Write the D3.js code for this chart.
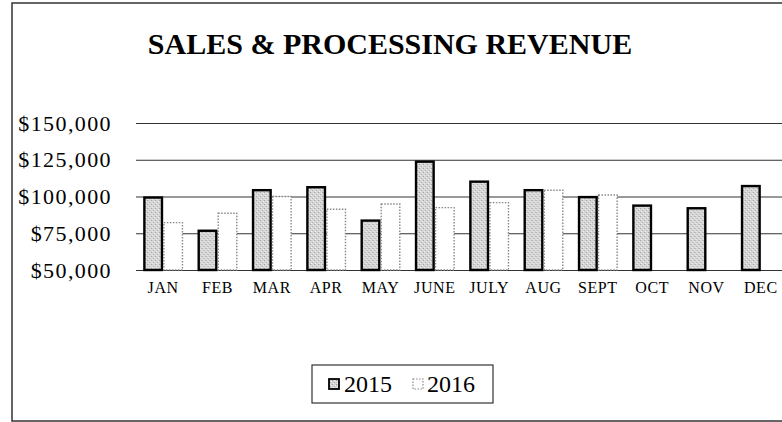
<!DOCTYPE html>
<html>
<head>
<meta charset="utf-8">
<script src="https://cdn.jsdelivr.net/npm/d3@7"></script>
<style>
  body { margin: 0; background: #fff; }
  text { font-family: "Liberation Serif", "DejaVu Serif", serif; }
</style>
</head>
<body>
<div id="rev_viz"></div>
<script>

// data
var months = ["JAN", "FEB", "MAR", "APR", "MAY", "JUNE", "JULY", "AUG", "SEPT", "OCT", "NOV", "DEC"]
var years = ["2015", "2016"]
var sales2015 = [99300, 76700, 104300, 106300, 83600, 123700, 110100, 104300, 99600, 93800, 92000, 107100]
var sales2016 = [82200, 88600, 100000, 91300, 94900, 92400, 95800, 104300, 101000, null, null, null]
var yTicks = [50000, 75000, 100000, 125000, 150000]

var width = 782, height = 422

var svg = d3.select("#rev_viz")
  .append("svg")
    .attr("width", width)
    .attr("height", height)

// stipple fill for the 2015 bars
var defs = svg.append("defs")
var pat = defs.append("pattern")
    .attr("id", "stipple")
    .attr("width", 4).attr("height", 4)
    .attr("patternUnits", "userSpaceOnUse")
pat.append("rect").attr("width", 4).attr("height", 4).attr("fill", "#d6d6d6")
var dots = [[0, 0, "#9c9c9c"], [2, 2, "#ababab"], [1, 3, "#f0f0f0"], [3, 1, "#eeeeee"]]
dots.forEach(function(d) {
  pat.append("rect").attr("x", d[0]).attr("y", d[1]).attr("width", 1).attr("height", 1).attr("fill", d[2])
})

// frame
svg.append("rect")
    .attr("x", 12).attr("y", 3)
    .attr("width", 790).attr("height", 418)
    .attr("fill", "none")
    .attr("stroke", "#333")
    .attr("stroke-width", 1.5)

// title
svg.append("text")
    .attr("x", 390)
    .attr("y", 54)
    .attr("text-anchor", "middle")
    .style("font-size", "30px")
    .style("font-weight", "bold")
    .text("SALES & PROCESSING REVENUE")

// scales
var x = d3.scaleBand()
    .domain(months)
    .range([136, 788])
    .paddingInner(0.264)
    .paddingOuter(0.132)

var xSub = d3.scaleBand()
    .domain(years)
    .range([0, x.bandwidth()])

var y = d3.scaleLinear()
    .domain([50000, 150000])
    .range([270, 123])

// Y axis with gridlines across the plot
var yAxis = svg.append("g")
    .attr("transform", "translate(136,0)")
    .call(d3.axisLeft(y).tickValues(yTicks).tickSize(-(width - 136)).tickFormat(d3.format("$,")))
yAxis.select(".domain").remove()
yAxis.selectAll(".tick line").attr("stroke", "#333").attr("stroke-width", 1)
yAxis.selectAll(".tick text")
    .attr("x", -24)
    .attr("fill", "#000")
    .style("font-size", "22px")
    .style("letter-spacing", "1.4px")
    .style("font-family", "'Liberation Serif', serif")

// X axis labels
var xAxis = svg.append("g")
    .attr("transform", "translate(0,270)")
    .call(d3.axisBottom(x).tickSize(0).tickPadding(12))
xAxis.select(".domain").remove()
xAxis.selectAll(".tick text")
    .attr("fill", "#000")
    .style("font-size", "16px")
    .style("letter-spacing", "0.6px")
    .style("font-family", "'Liberation Serif', serif")

// bars
var rows = months.map(function(m, i) {
  return {month: m, values: [{year: "2015", v: sales2015[i]}, {year: "2016", v: sales2016[i]}]}
})

svg.append("g")
  .selectAll("g")
  .data(rows)
  .enter().append("g")
    .attr("transform", function(d) { return "translate(" + x(d.month) + ",0)" })
  .selectAll("rect")
  .data(function(d) { return d.values.filter(function(e) { return e.v != null }) })
  .enter().append("rect")
    .attr("x", function(d) { return xSub(d.year) + (d.year == "2015" ? 1.2 : 0.7) })
    .attr("y", function(d) { return y(d.v) })
    .attr("width", function(d) { return xSub.bandwidth() - (d.year == "2015" ? 2.4 : 1.4) })
    .attr("height", function(d) { return y(50000) - y(d.v) })
    .attr("fill", function(d) { return d.year == "2015" ? "url(#stipple)" : "#fff" })
    .attr("stroke", function(d) { return d.year == "2015" ? "#000" : "#888" })
    .attr("stroke-width", function(d) { return d.year == "2015" ? 2.4 : 1.4 })
    .attr("stroke-dasharray", function(d) { return d.year == "2015" ? null : "1.5,1.5" })

// legend
svg.append("rect")
    .attr("x", 312).attr("y", 365)
    .attr("width", 181).attr("height", 38)
    .attr("fill", "#fff")
    .attr("stroke", "#333")
    .attr("stroke-width", 1.2)
svg.append("rect").attr("x", 329).attr("y", 379).attr("width", 10).attr("height", 10)
    .attr("fill", "url(#stipple)").attr("stroke", "#000").attr("stroke-width", 1.8)
svg.append("rect").attr("x", 413).attr("y", 379).attr("width", 10).attr("height", 10)
    .attr("fill", "#fff").attr("stroke", "#888").attr("stroke-width", 1.2).attr("stroke-dasharray", "1.5,1.5")
svg.append("text").attr("x", 344).attr("y", 392).text(years[0]).style("font-size", "24px")
svg.append("text").attr("x", 427).attr("y", 392).text(years[1]).style("font-size", "24px")

</script>
</body>
</html>
